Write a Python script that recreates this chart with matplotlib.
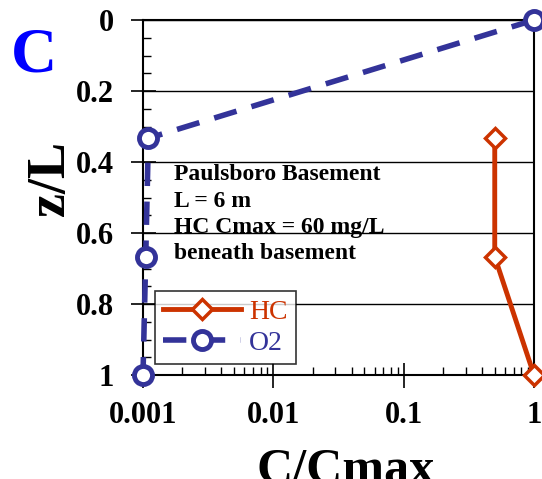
import numpy as np
import matplotlib.pyplot as plt
from matplotlib.ticker import FixedLocator, NullFormatter, LogLocator

plt.rcParams['font.family'] = ['Liberation Serif', 'DejaVu Serif']
plt.rcParams['font.weight'] = 'bold'

# data
hc_c = [0.5, 0.5, 1.0]
hc_z = [0.333, 0.667, 1.0]
o2_c = [1.0, 0.0011, 0.00105, 0.001]
o2_z = [0.0, 0.333, 0.667, 1.0]

y_ticks = [0, 0.2, 0.4, 0.6, 0.8, 1]
y_labels = ['0', '0.2', '0.4', '0.6', '0.8', '1']
x_ticks = [0.001, 0.01, 0.1, 1]
x_labels = ['0.001', '0.01', '0.1', '1']

hc_col = '#CC3300'
o2_col = '#333399'

fig = plt.figure(figsize=(5.42, 4.79), dpi=100)
ax = fig.add_axes([0.2638, 0.2171, 0.7214, 0.7411])

ax.plot(hc_c, hc_z, '-D', color=hc_col, lw=3.5, ms=10, mfc='white',
        mew=2.5, label='HC', zorder=3, clip_on=False)
ax.plot(o2_c, o2_z, '--o', color=o2_col, lw=4, ms=13, mfc='white',
        mew=3.5, dashes=(4.2, 2.8), label='O2', zorder=4, clip_on=False)

ax.set_xscale('log')
ax.set_xlim(0.001, 1)
ax.set_ylim(1, 0)

ax.set_yticks(y_ticks)
ax.set_yticklabels(y_labels)
ax.yaxis.set_minor_locator(FixedLocator(np.arange(0, 1.001, 0.05)))
ax.set_xticks(x_ticks)
ax.set_xticklabels(x_labels)
ax.xaxis.set_minor_locator(LogLocator(base=10, subs=np.arange(2, 10)))
ax.xaxis.set_minor_formatter(NullFormatter())

ax.tick_params(axis='both', which='major', direction='inout', length=18,
               width=1.2, labelsize=22)
ax.tick_params(axis='both', which='minor', direction='in', length=6, width=1)
ax.tick_params(axis='x', which='major', pad=10)
ax.tick_params(axis='y', which='major', pad=12)

ax.grid(axis='y', which='major', color='black', lw=1)
for s in ax.spines.values():
    s.set_linewidth(1.5)

fig.text(0.094, 0.628, 'z/L', rotation=90, fontsize=39, fontweight='bold',
         ha='center', va='center')
ax.set_xlabel('C/Cmax', fontsize=36, fontweight='bold', labelpad=13)
ax.xaxis.label.set_x(0.517)

ax.text(0.08, 0.453, 'Paulsboro Basement\nL = 6 m\nHC Cmax = 60 mg/L\nbeneath basement',
        transform=ax.transAxes, fontsize=17, va='center', ha='left',
        linespacing=1.33)

leg = ax.legend(loc='lower left', bbox_to_anchor=(0.03, 0.03), fontsize=20,
                frameon=True, fancybox=False, edgecolor='black',
                handlelength=2.8, borderpad=0.3, labelspacing=0.2,
                handletextpad=0.3, borderaxespad=0)
leg.get_frame().set_linewidth(1.2)
for t, c in zip(leg.get_texts(), [hc_col, o2_col]):
    t.set_color(c)
    t.set_fontweight('normal')

fig.text(0.02, 0.85, 'C', color='#0000FF', fontsize=46, fontweight='bold')

fig.savefig('out.png', dpi=100)
